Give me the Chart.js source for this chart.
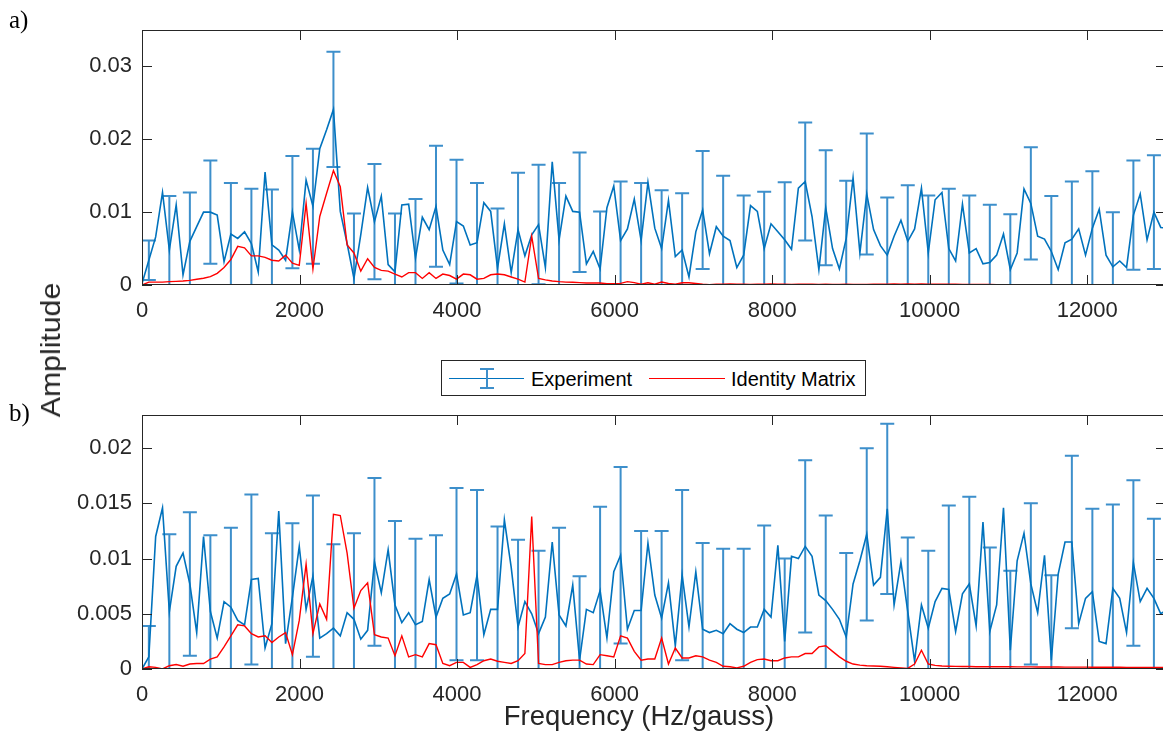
<!DOCTYPE html>
<html>
<head>
<meta charset="utf-8">
<script src="https://cdn.jsdelivr.net/npm/chart.js@4.4.0/dist/chart.umd.min.js"></script>
<style>
  body { margin: 0; background: #fff; width: 1163px; height: 744px; position: relative; overflow: hidden;
         font-family: "Liberation Sans", Arial, sans-serif; color: #262626; }
  canvas { position: absolute; left: 0; }
  #cA { top: 0; }
  #cB { top: 385px; }
  .lbl { position: absolute; white-space: nowrap; line-height: 1; }
  .panel { font-family: "Liberation Serif", "Times New Roman", serif; font-size: 25px; color: #000; }
  #legend { position: absolute; left: 441px; top: 360px; width: 423px; height: 34px;
            border: 1px solid #262626; background: #fff; }
  #legend div { position: absolute; }
  #legend .txt { font-size: 20px; line-height: 20px; top: 8px; color: #000; }
</style>
</head>
<body>
<canvas id="cA" width="1172" height="325"></canvas>
<canvas id="cB" width="1172" height="324"></canvas>

<div class="lbl panel" style="left:9px; top:7px;">a)</div>
<div class="lbl panel" style="left:9px; top:400px;">b)</div>
<div class="lbl" style="left:51px; top:350px; font-size:28px; transform:translate(-50%,-50%) rotate(-90deg) scale(1.08,1);">Amplitude</div>
<div class="lbl" style="left:639px; top:716px; font-size:27.5px; transform:translate(-50%,-50%);">Frequency (Hz/gauss)</div>

<div id="legend">
  <div style="left:7px; top:17px; width:75px; border-top:1.5px solid #0072BD;"></div>
  <div style="left:44px; top:7px; height:20px; border-left:2px solid #3d8fcb;"></div>
  <div style="left:38px; top:7px; width:14px; border-top:2px solid #3d8fcb;"></div>
  <div style="left:38px; top:26px; width:14px; border-top:2px solid #3d8fcb;"></div>
  <div class="txt" style="left:89px;">Experiment</div>
  <div style="left:207px; top:17px; width:76px; border-top:1.5px solid #ff0000;"></div>
  <div class="txt" style="left:289px;">Identity Matrix</div>
</div>

<script>
// frequency bin spacing (Hz/gauss), error bar on every 3rd bin starting at bin 1
const freqStep = 86.8;
const errFirst = 1;
const errEvery = 3;

const xTicks = [0, 2000, 4000, 6000, 8000, 10000, 12000];
const yTicksA = [0, 0.01, 0.02, 0.03];
const yTicksB = [0, 0.005, 0.01, 0.015, 0.02];

// panel a) experiment
const ampA = [
  0.0002, 0.0034, 0.0066, 0.0127, 0.0048, 0.0110, 0.0014, 0.0060, 0.0080, 0.0100,
  0.0100, 0.0096, 0.0032, 0.0070, 0.0064, 0.0073, 0.0057, 0.0018, 0.0155, 0.0055,
  0.0048, 0.0034, 0.0100, 0.0048, 0.0144, 0.0108, 0.0187, 0.0213, 0.0241, 0.0101,
  0.0057, 0.0009, 0.0069, 0.0134, 0.0087, 0.0122, 0.0028, 0.0018, 0.0110, 0.0111,
  0.0037, 0.0093, 0.0076, 0.0108, 0.0048, 0.0028, 0.0087, 0.0081, 0.0055, 0.0058,
  0.0113, 0.0101, 0.0023, 0.0084, 0.0017, 0.0076, 0.0040, 0.0069, 0.0083, 0.0024,
  0.0169, 0.0062, 0.0122, 0.0101, 0.0100, 0.0029, 0.0046, 0.0022, 0.0106, 0.0136,
  0.0061, 0.0077, 0.0118, 0.0061, 0.0141, 0.0078, 0.0050, 0.0116, 0.0039, 0.0048,
  0.0011, 0.0073, 0.0103, 0.0043, 0.0080, 0.0067, 0.0061, 0.0024, 0.0041, 0.0109,
  0.0101, 0.0050, 0.0084, 0.0073, 0.0062, 0.0049, 0.0133, 0.0142, 0.0094, 0.0021,
  0.0106, 0.0050, 0.0022, 0.0064, 0.0147, 0.0044, 0.0125, 0.0076, 0.0054, 0.0041,
  0.0067, 0.0089, 0.0060, 0.0077, 0.0133, 0.0044, 0.0117, 0.0127, 0.0050, 0.0033,
  0.0111, 0.0044, 0.0050, 0.0029, 0.0031, 0.0041, 0.0070, 0.0021, 0.0044, 0.0132,
  0.0112, 0.0067, 0.0063, 0.0046, 0.0021, 0.0058, 0.0063, 0.0077, 0.0041, 0.0078,
  0.0104, 0.0041, 0.0025, 0.0033, 0.0024, 0.0096, 0.0125, 0.0062, 0.0100, 0.0079,
  0.0078
];
const errA = [
  0.0027, 0.0074, 0.0067, 0.0071, 0.0070, 0.0075, 0.0076, 0.0077, 0.0079, 0.0079,
  0.0089, 0.0079, 0.0080, 0.0081, 0.0083, 0.0085, 0.0082, 0.0082, 0.0078, 0.0082,
  0.0078, 0.0082, 0.0079, 0.0081, 0.0079, 0.0080, 0.0078, 0.0081, 0.0083, 0.0082,
  0.0078, 0.0079, 0.0081, 0.0079, 0.0079, 0.0083, 0.0079, 0.0077, 0.0079, 0.0082,
  0.0079, 0.0079, 0.0076, 0.0077, 0.0076, 0.0079, 0.0078, 0.0075, 0.0075, 0.0078
];
// panel a) identity matrix
const idA = [
  0.0000, 0.0004, 0.0004, 0.0004, 0.00046, 0.0005, 0.00055, 0.00064, 0.00078, 0.00092,
  0.00115, 0.0016, 0.0024, 0.0035, 0.0053, 0.0051, 0.0040, 0.0040, 0.0038, 0.0034,
  0.0033, 0.0041, 0.0030, 0.0027, 0.0112, 0.0022, 0.0094, 0.0126, 0.0157, 0.0135,
  0.0055, 0.0044, 0.0019, 0.0036, 0.0024, 0.0020, 0.0019, 0.0015, 0.0011, 0.0017,
  0.0017, 0.0009, 0.0017, 0.0009, 0.0015, 0.0013, 0.0008, 0.0015, 0.0014, 0.0008,
  0.0009, 0.0014, 0.0015, 0.0014, 0.0011, 0.0008, 0.0004, 0.0067, 0.0009, 0.0007,
  0.00055, 0.00046, 0.0004, 0.00037, 0.00032, 0.00028, 0.00028, 0.00028, 0.00018, 0.00018,
  0.00023, 0.00046, 0.00032, 0.0001, 0.0003, 0.0001, 0.0004, 0.0002, 0.0001, 0.0003,
  0.0003, 0.0002, 0.0001, 0.00005, 0.0001, 0.00012, 0.00015, 0.00012, 0.0001, 0.00008,
  0.0001, 0.00012, 0.00014, 0.00012, 0.0001, 0.00008, 0.0001, 0.00012, 0.0001, 0.00008,
  0.0001, 0.00009, 0.00008, 0.0001, 0.00009, 0.00008, 0.00008, 0.0001, 0.00012, 0.00012,
  0.00013, 0.00012, 0.00014, 0.00012, 0.00013, 0.00012, 0.00011, 0.0001, 0.0001, 0.0001,
  0.00009, 0.00008, 0.00008, 0.00007, 0.00006, 0.00005, 0.00005, 0.00005, 0.00004, 0.00004,
  0.00004, 0.00004, 0.00004, 0.00003, 0.00003, 0.00003, 0.00003, 0.00003, 0.00003, 0.00003,
  0.00003, 0.00003, 0.00003, 0.00003, 0.00003, 0.00003, 0.00003, 0.00003, 0.00003, 0.00003,
  0.00003
];

// panel b) experiment
const ampB = [
  0.0000, 0.0011, 0.0120, 0.0146, 0.0052, 0.0093, 0.0105, 0.0077, 0.0033, 0.0120,
  0.0052, 0.0028, 0.0061, 0.0056, 0.0044, 0.0040, 0.0081, 0.0082, 0.0019, 0.0041,
  0.0143, 0.0023, 0.0065, 0.0111, 0.0054, 0.0084, 0.0028, 0.0032, 0.0037, 0.0030,
  0.0051, 0.0045, 0.0027, 0.0035, 0.0097, 0.0069, 0.0108, 0.0058, 0.0042, 0.0051,
  0.0040, 0.0043, 0.0081, 0.0047, 0.0064, 0.0068, 0.0086, 0.0049, 0.0051, 0.0085,
  0.0031, 0.0054, 0.0054, 0.0135, 0.0092, 0.0038, 0.0061, 0.0050, 0.0032, 0.0047,
  0.0115, 0.0049, 0.0039, 0.0076, 0.0008, 0.0054, 0.0051, 0.0071, 0.0028, 0.0088,
  0.0103, 0.0036, 0.0053, 0.0053, 0.0114, 0.0067, 0.0046, 0.0078, 0.0021, 0.0085,
  0.0038, 0.0088, 0.0036, 0.0033, 0.0035, 0.0032, 0.0041, 0.0036, 0.0033, 0.0038,
  0.0038, 0.0054, 0.0047, 0.0112, 0.0025, 0.0102, 0.0100, 0.0111, 0.0102, 0.0067,
  0.0062, 0.0054, 0.0045, 0.0029, 0.0077, 0.0098, 0.0122, 0.0076, 0.0083, 0.0145,
  0.0058, 0.0097, 0.0052, 0.0007, 0.0058, 0.0037, 0.0061, 0.0073, 0.0072, 0.0034,
  0.0068, 0.0077, 0.0039, 0.0133, 0.0034, 0.0058, 0.0146, 0.0017, 0.0098, 0.0123,
  0.0077, 0.0051, 0.0103, 0.0008, 0.0086, 0.0115, 0.0115, 0.0041, 0.0064, 0.0070,
  0.0025, 0.0023, 0.0073, 0.0064, 0.0033, 0.0096, 0.0061, 0.0073, 0.0064, 0.0050,
  0.0054
];
const errB = [
  0.0028, 0.0070, 0.0065, 0.0069, 0.0072, 0.0077, 0.0082, 0.0067, 0.0073, 0.0076,
  0.0078, 0.0076, 0.0076, 0.0078, 0.0074, 0.0078, 0.0077, 0.0075, 0.0079, 0.0075,
  0.0079, 0.0076, 0.0076, 0.0080, 0.0072, 0.0079, 0.0077, 0.0078, 0.0077, 0.0076,
  0.0076, 0.0075, 0.0078, 0.0077, 0.0076, 0.0078, 0.0077, 0.0067, 0.0070, 0.0076,
  0.0079, 0.0076, 0.0072, 0.0073, 0.0077, 0.0078, 0.0075, 0.0076, 0.0075, 0.0072
];
// panel b) identity matrix
const idB = [
  0.0000, 0.0002, 0.00015, 0.0000, 0.0003, 0.0004, 0.00025, 0.00045, 0.0005, 0.0005,
  0.0009, 0.0011, 0.0020, 0.0030, 0.0040, 0.0039, 0.0032, 0.0029, 0.0030, 0.0024,
  0.0029, 0.0033, 0.0013, 0.0044, 0.0095, 0.0032, 0.0059, 0.0045, 0.0140, 0.0139,
  0.0105, 0.0055, 0.0071, 0.0078, 0.0031, 0.0029, 0.0028, 0.0012, 0.0030, 0.0011,
  0.0013, 0.0011, 0.0023, 0.0022, 0.0005, 0.0003, 0.0006, 0.0006, 0.00015, 0.0004,
  0.00075, 0.0009, 0.0007, 0.0006, 0.0005, 0.00075, 0.0014, 0.0138, 0.0005, 0.0004,
  0.0004, 0.0006, 0.00075, 0.0008, 0.0008, 0.00045, 0.0004, 0.0013, 0.0012, 0.0011,
  0.0030, 0.0028, 0.0016, 0.0008, 0.0009, 0.0009, 0.0028, 0.00045, 0.0019, 0.0010,
  0.0010, 0.0012, 0.0011, 0.0008, 0.0006, 0.00025, 0.0002, 0.0001, 0.00025, 0.0006,
  0.00085, 0.0009, 0.00075, 0.00075, 0.0010, 0.0011, 0.0011, 0.0014, 0.0014, 0.0020,
  0.0021, 0.0016, 0.0011, 0.0007, 0.00045, 0.00035, 0.0003, 0.00027, 0.00025, 0.0002,
  0.00015, 0.0001, 0.00006, 0.00045, 0.0017, 0.00045, 0.00033, 0.00027, 0.00025, 0.00024,
  0.00023, 0.00022, 0.00021, 0.00021, 0.0002, 0.0002, 0.0002, 0.0002, 0.00019, 0.00019,
  0.00019, 0.00018, 0.00018, 0.00018, 0.00018, 0.00017, 0.00017, 0.00017, 0.00017, 0.00016,
  0.00016, 0.00016, 0.00016, 0.00016, 0.00015, 0.00015, 0.00015, 0.00015, 0.00015, 0.00015,
  0.00015
];

const blue = '#0072BD';
const barBlue = '#3d8fcb';
const red = '#ff0000';
const axisCol = '#262626';

function pts(vals) {
  return vals.map((v, i) => ({ x: i * freqStep, y: v }));
}

// symmetric error bars, clipped to the axes like matlab does
const errorBars = {
  id: 'errorBars',
  beforeDatasetsDraw(chart, args, opts) {
    const { ctx, chartArea: a, scales: { x, y } } = chart;
    const vals = opts.values;
    ctx.save();
    ctx.beginPath();
    ctx.rect(a.left, a.top, a.width, a.height);
    ctx.clip();
    ctx.strokeStyle = barBlue;
    ctx.lineWidth = 2;
    opts.err.forEach((e, k) => {
      const i = errFirst + k * errEvery;
      const px = x.getPixelForValue(i * freqStep);
      const top = y.getPixelForValue(vals[i] + e);
      const bot = y.getPixelForValue(vals[i] - e);
      ctx.beginPath();
      ctx.moveTo(px, top); ctx.lineTo(px, bot);
      ctx.moveTo(px - 7, top); ctx.lineTo(px + 7, top);
      ctx.moveTo(px - 7, bot); ctx.lineTo(px + 7, bot);
      ctx.stroke();
    });
    ctx.restore();
  }
};

// box around the axes with inward ticks on all four sides
const axesBox = {
  id: 'axesBox',
  afterDatasetsDraw(chart) {
    const { ctx, chartArea: a, scales: { x, y } } = chart;
    ctx.save();
    ctx.strokeStyle = axisCol;
    ctx.lineWidth = 1;
    ctx.strokeRect(a.left + 0.5, a.top + 0.5, a.width - 1, a.height - 1);
    ctx.beginPath();
    x.ticks.forEach(t => {
      const px = Math.round(x.getPixelForValue(t.value)) + 0.5;
      ctx.moveTo(px, a.bottom); ctx.lineTo(px, a.bottom - 10);
      ctx.moveTo(px, a.top); ctx.lineTo(px, a.top + 10);
    });
    y.ticks.forEach(t => {
      const py = Math.round(y.getPixelForValue(t.value)) + 0.5;
      ctx.moveTo(a.left, py); ctx.lineTo(a.left + 10, py);
      ctx.moveTo(a.right, py); ctx.lineTo(a.right - 10, py);
    });
    ctx.stroke();
    ctx.restore();
  }
};

function makeChart(id, amp, err, ident, yMax, yTicks) {
  return new Chart(document.getElementById(id), {
    type: 'line',
    data: {
      datasets: [
        { label: 'Identity Matrix', data: pts(ident), borderColor: red, borderWidth: 1.4,
          pointRadius: 0, tension: 0, order: 0 },
        { label: 'Experiment', data: pts(amp), borderColor: blue, borderWidth: 1.6,
          pointRadius: 0, tension: 0, order: 1 }
      ]
    },
    options: {
      responsive: false,
      animation: false,
      layout: { padding: { top: 30, right: 6, left: 0, bottom: 0 } },
      plugins: {
        legend: { display: false },
        tooltip: { enabled: false },
        errorBars: { err: err, values: amp }
      },
      scales: {
        x: {
          type: 'linear', min: 0, max: 13000,
          grid: { display: false, drawTicks: false }, border: { display: false },
          afterBuildTicks: s => { s.ticks = xTicks.map(v => ({ value: v })); },
          afterFit: s => { s.height = 40; },
          ticks: { color: axisCol, font: { size: 22 }, padding: 13, maxRotation: 0,
                   callback: v => String(v) }
        },
        y: {
          min: 0, max: yMax,
          grid: { display: false, drawTicks: false }, border: { display: false },
          afterBuildTicks: s => { s.ticks = yTicks.map(v => ({ value: v })); },
          afterFit: s => { s.width = 142; },
          ticks: { color: axisCol, font: { size: 22 }, padding: 10,
                   callback: v => String(v) }
        }
      }
    },
    plugins: [errorBars, axesBox]
  });
}

Chart.defaults.font.family = '"Liberation Sans", Arial, sans-serif';
makeChart('cA', ampA, errA, idA, 0.035, yTicksA);
makeChart('cB', ampB, errB, idB, 0.023, yTicksB);
</script>
</body>
</html>
